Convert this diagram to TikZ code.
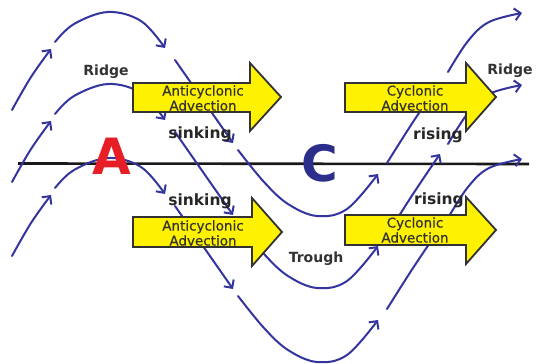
\documentclass[tikz,border=0pt]{standalone}
\usepackage{fontspec}
\setmainfont{DejaVu Sans}
\newfontfamily\advfont{DejaVu Sans}[FakeBold=0.5]
\usetikzlibrary{arrows.meta}
\definecolor{streamblue}{RGB}{52,52,158}
\definecolor{highred}{RGB}{232,30,38}
\definecolor{lownavy}{RGB}{44,46,140}
\definecolor{labelgray}{RGB}{50,50,50}

\begin{document}
\begin{tikzpicture}[x=1pt, y=-1pt,
  stream/.style={draw=streamblue, line width=2pt, line cap=round,
    -{Straight Barb[length=6pt,width=12pt]}},
  advect/.style={draw=labelgray, line width=1.8pt, fill=yellow, line join=miter},
  advtext/.style={inner sep=0pt, align=center, text=labelgray,
    font=\advfont\fontsize{13.5}{15}\selectfont},
  lbl/.style={inner sep=0pt, text=labelgray, font=\fontsize{14}{14}\selectfont\bfseries},
  motion/.style={inner sep=0pt, text=black!85, font=\fontsize{15.5}{15}\selectfont\bfseries},
  center/.style={inner sep=0pt, font=\fontsize{50}{50}\selectfont\bfseries}]
\useasboundingbox (0,0) rectangle (536,364);
% axis
\draw[line width=2.6pt, black!90] (18,163.5) -- (529,164);
\node[center, text=lownavy] (C) at (320,163.5) {C};
% streamlines
\foreach \dy in {0,72,146} {
  \begin{scope}[shift={(0,\dy)}]
    \draw[stream] plot[smooth, tension=0.6] coordinates {(12,110) (31,77) (51,49)};
    \draw[stream] plot[smooth, tension=0.6] coordinates {(55,42) (74,24) (108,12) (141,21) (165,48)};
    \draw[stream] (175,60) -- (233,143);
    \draw[stream] plot[smooth, tension=0.6] coordinates {(238,150) (264,182) (288,204) (317,216) (347,209) (378,174)};
    \draw[stream] plot[smooth, tension=0.6] coordinates {(387,163) (413,122) (440,82)};
    \draw[stream] plot[smooth, tension=0.6] coordinates {(448,72) (468,41) (489,22) (522,13)};
  \end{scope}
}
\node[center, text=highred] (A) at (112,156.5) {A};
% advection arrows
\draw[advect] (133,83) -- (250,83) -- (250,63) -- (281,97) -- (250,131) -- (250,112) -- (133,112) -- cycle;
\draw[advect] (345,83) -- (466,83) -- (466,63) -- (496,97) -- (466,131) -- (466,112) -- (345,112) -- cycle;
\draw[advect] (133,217) -- (252,217) -- (252,198) -- (282,232) -- (252,266) -- (252,247) -- (133,247) -- cycle;
\draw[advect] (345,215) -- (466,215) -- (466,197) -- (496,230) -- (466,264) -- (466,245) -- (345,245) -- cycle;
\node[advtext] (antiU) at (203,98) {Anticyclonic\\Advection};
\node[advtext] (cycU) at (415,98) {Cyclonic\\Advection};
\node[advtext] (antiL) at (203,233) {Anticyclonic\\Advection};
\node[advtext] (cycL) at (415,230) {Cyclonic\\Advection};
% labels
\node[lbl] (ridgeL) at (106,71.5) {Ridge};
\node[lbl] (ridgeR) at (510,71) {Ridge};
\node[lbl] (trough) at (316,258.5) {Trough};
\node[motion] (sinkU) at (200,134) {sinking};
\node[motion] (sinkL) at (200,201.5) {sinking};
\node[motion] (riseU) at (438,135) {rising};
\node[motion] (riseL) at (439,200) {rising};
\end{tikzpicture}
\end{document}
